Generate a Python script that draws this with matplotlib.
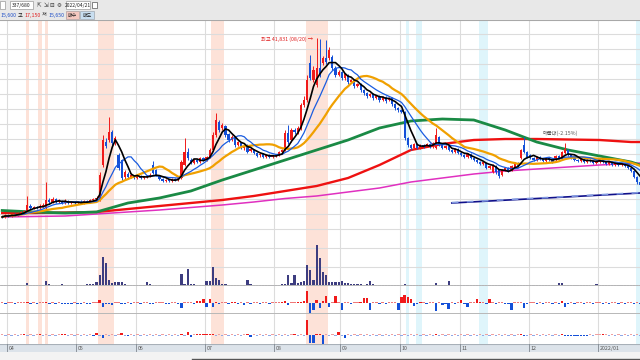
import numpy as np
import pandas as pd
import matplotlib
matplotlib.use('Agg')
import matplotlib.pyplot as plt
from matplotlib.patches import Rectangle

plt.rcParams['font.family'] = ['Noto Sans CJK KR', 'DejaVu Sans']

# ---------------- data (daily, trading-day index) ----------------
month_start = [2, 24, 43, 65, 87, 108, 127, 146, 168, 190]
month_labels = ['04', '05', '06', '07', '08', '09', '10', '11', '12', '2022/01']

open_h = [240,239,241,240,242,241,243,244,244,250, 248,249,248,250,248,256,254,257,254,255,
          253,255,253,254,253,254,253,255,254,256, 257,256,291,314,316,324,313,301,296,279,
          282,279,280,278,280,278,279,280,291,286, 280,277,275,276,275,277,276,278,291,304,
          296,293,296,294,298,296,299,306,321,334, 328,330,322,316,318,311,313,308,309,305,
          306,303,301,302,299,301,299,300,301,304, 306,323,316,326,324,328,351,356,393,376,
          371,388,393,398,398,399,388,381,384,378, 381,374,376,370,372,366,363,360,362,358,
          360,356,359,356,358,352,348,346,344,318, 311,308,312,308,311,310,312,309,308,319,
          311,308,310,306,304,307,303,301,299,302, 298,296,294,292,293,288,284,290,286,281,
          286,288,286,289,293,298,311,304,301,298, 296,299,297,295,298,296,296,300,298,303,
          306,301,298,296,295,297,294,296,295,293, 294,297,294,292,294,291,293,291,292,290,
          288,285,279,274]
close_h = [239,241,240,242,241,243,244,245,251,248, 249,248,250,251,256,254,257,254,255,253,
           255,253,254,253,254,253,255,254,256,257, 258,281,316,310,324,313,318,288,278,284,
           279,281,278,280,278,279,280,281,283,281, 277,275,276,275,277,276,278,294,304,298,
           293,296,294,298,296,299,306,321,336,326, 331,321,316,319,311,314,308,310,304,307,
           303,300,302,299,301,299,300,301,304,306, 323,314,326,324,328,351,356,376,378,386,
           388,381,398,394,406,388,381,384,378,382, 374,376,370,372,366,363,360,362,358,360,
           356,359,355,358,352,348,346,344,318,311, 308,312,308,311,310,312,309,313,321,311,
           308,310,306,304,307,303,301,299,302,298, 296,294,292,294,288,290,290,284,280,286,
           288,285,290,293,290,306,304,299,298,296, 299,297,295,298,296,294,300,298,304,307,
           301,298,296,295,297,294,296,295,293,295, 297,294,292,294,291,293,291,292,290,288,
           285,279,274,271]
high_h = [241,242,242,243,243,244,245,246,260,252, 250,250,252,253,274,258,259,258,257,256,
          257,256,255,255,255,256,256,256,257,258, 260,284,321,318,339,326,320,303,297,286,
          284,283,281,281,281,280,281,283,295,287, 281,278,277,277,278,278,279,296,318,308,
          298,297,297,299,299,300,308,324,343,336, 333,331,323,321,319,315,314,311,312,308,
          307,304,303,303,302,302,301,302,305,307, 326,331,328,328,330,353,360,381,401,390,
          418.31,417,400,416,409,401,390,386,385,383, 382,377,377,373,373,367,364,363,363,361,
          361,360,360,359,359,353,349,347,345,319, 312,313,313,312,312,313,313,314,328,320,
          312,311,311,307,308,308,304,302,303,303, 299,297,295,295,294,291,292,291,287,287,
          289,289,291,294,294,307,319,305,302,299, 300,300,298,299,299,297,301,301,305,313,
          307,302,299,297,298,298,297,297,296,296, 298,298,295,295,295,294,294,293,293,291,
          289,286,280,275]
low_h = [238,238,239,239,240,240,242,243,243,247, 247,247,247,249,247,253,253,253,253,252,
         252,252,252,252,252,252,252,253,253,255, 256,255,289,308,314,311,311,286,276,277,
         277,278,277,277,277,277,278,279,282,280, 276,274,274,274,274,275,275,277,290,296,
         292,292,293,293,295,295,298,305,319,324, 326,319,314,315,309,310,307,306,303,304,
         302,299,299,298,298,298,298,299,300,303, 305,312,314,322,322,326,349,354,376,374,
         369,379,391,392,396,386,379,380,376,376, 372,373,368,369,364,361,358,359,356,357,
         354,355,353,355,350,346,344,343,316,309, 306,307,307,307,308,309,308,308,307,310,
         307,307,305,303,303,302,300,298,298,297, 295,293,291,291,287,287,283,282,278,280,
         285,284,285,288,289,297,303,298,297,295, 295,296,294,294,295,293,295,297,297,302,
         300,297,295,294,294,293,293,294,292,292, 293,293,291,291,290,290,290,290,289,287,
         284,278,272,270]

# long moving averages, sampled every 10 trading days (price in 100 won)
ma_long_idx = [0, 10, 20, 30, 40, 50, 60, 70, 80, 90, 100, 110, 120, 130, 140, 150, 160, 170, 180, 190, 200, 203]
ma60_h = [245.5, 244, 243, 244, 253, 258, 265, 276, 286, 296, 306, 316, 328, 335, 337, 336, 326, 314, 306, 300, 294, 291]
ma120_h = [243, 243, 243.5, 244, 247, 250, 253, 256, 260, 265, 270, 278, 291, 306, 312, 316, 317, 317, 316.5, 316, 314, 314]
ma240_h = [239, 239.5, 240, 242, 244, 246, 248.5, 251, 254, 257.5, 260, 264, 268, 274, 278, 282, 285, 287, 289, 291, 292.5, 293]

trend_idx = [143, 203]
trend_h = [253, 263]

# volume (thousand shares)
volume = [150,120,100,130,100,120,150,130,270,150, 120,100,130,150,530,200,150,120,100,200,
          120,100,120,100,130,100,120,200,200,200, 400,1100,2900,2300,600,330,370,370,370,200,
          150,130,120,120,100,150,400,200,150,120, 100,120,100,100,130,120,150,1200,200,1700,
          200,200,150,150,150,530,530,1870,800,600, 250,200,150,150,130,120,150,150,600,200,
          150,150,120,100,120,100,150,150,150,200, 200,1100,300,1100,300,400,500,2100,1600,600,
          4100,2800,1400,1100,430,430,430,430,500,300, 300,250,200,200,200,150,200,500,180,150,
          150,150,120,120,120,120,150,150,200,150, 150,150,120,120,120,120,120,150,300,150,
          120,120,500,120,100,100,100,100,120,100, 100,100,100,100,100,100,100,100,100,100,
          100,100,100,100,120,150,120,100,100,100, 100,100,100,100,100,100,100,330,330,150,
          100,100,100,100,100,100,100,100,100,200, 100,100,100,100,100,100,100,100,100,100,
          100,100,120,120]

# net buying indicator 1 (thousand shares)
net1 = [8,-8,8,8,-8,8,8,8,15,-8, 8,-8,8,8,15,-8,8,-8,8,-8,
        -8,-8,-8,8,-8,-8,8,-8,-8,8, 10,27,-40,-10,-8,-23,8,8,-8,-8,
        8,-8,8,8,-8,8,10,-8,-8,10, 8,8,-8,-8,8,8,-8,-50,8,8,
        10,-8,20,25,40,-37,43,-37,15,-12, 10,12,-12,15,15,-8,8,-15,8,-8,
        8,8,-8,8,8,-8,8,8,10,15, 20,-15,10,8,15,15,20,117,-107,-70,
        30,-47,20,67,-40,10,67,10,-73,8, 10,-8,8,10,15,53,53,-73,10,8,
        -8,8,-8,8,8,8,-67,60,77,65, 40,-33,-8,15,8,-8,8,8,-80,8,
        -15,-8,-57,8,-10,10,27,-10,-40,10, 8,37,15,8,-8,37,8,-8,8,8,
        -8,-8,-73,8,8,10,-50,-8,8,8, -8,8,-8,8,8,-8,8,-8,20,-40,
        -8,8,-8,8,8,-8,8,8,-8,8, 8,-8,8,-8,8,8,-8,8,-8,8,
        8,-8,8,-8]

# net buying indicator 2 (thousand shares)
net2 = [6,-6,6,-6,6,-6,6,12,-6,6, -6,6,12,-6,6,-6,6,-6,6,12,
        12,-6,6,-6,6,-6,6,-6,6,-10, 20,-6,-25,6,-6,6,-6,6,20,-6,
        -10,6,-6,6,-6,6,-6,6,-6,6, -6,6,-6,6,-6,6,-6,10,-6,30,
        -20,6,10,10,10,10,10,10,-6,6, -6,6,-6,6,-6,6,-6,6,15,-15,
        6,-6,6,-6,6,-6,6,-6,6,-6, 6,-6,6,15,-6,6,-6,155,-80,-80,
        10,10,-90,6,-6,6,-6,30,-6,-25, 6,-6,6,-6,6,-6,6,-6,6,-6,
        6,-6,6,-6,6,-6,6,-6,6,-6, 6,-6,6,-6,6,-6,6,-6,10,-6,
        6,-6,6,-6,6,-6,6,-6,6,-6, 6,-6,6,-6,6,-6,6,-6,6,-6,
        6,-6,6,-6,6,10,-10,-6,6,-6, 6,-6,6,-6,6,-6,6,-6,10,-10,
        -10,-10,-10,-10,-10,-10,-10,6,-6,6, 6,10,6,-6,6,-6,6,-6,6,-6,
        6,-6,6,-6]

signal_up = [(8, 8), (12, 12), (14, 14), (31, 35), (67, 70), (97, 103)]
signal_down = [(129, 129), (132, 133), (152, 154), (202, 203)]

top_label = '최고 41,831 (08/20) →'
band_label = '매물대(-2.15%)'

# ---------------- figure ----------------
W, H = 640, 360
fig = plt.figure(figsize=(W / 100, H / 100), dpi=100)
fig.patch.set_facecolor('white')

def ax_px(x0, y0, x1, y1, z=1):
    a = fig.add_axes([x0 / W, 1 - y1 / H, (x1 - x0) / W, (y1 - y0) / H], zorder=z)
    return a

n = len(close_h)
idx = np.arange(n)
opens = np.array(open_h, float) * 100
closes = np.array(close_h, float) * 100
highs = np.array(high_h, float) * 100
lows = np.array(low_h, float) * 100
XL = (-0.70, 202.86)

RED = '#f01a1a'
BLUE = '#1450d8'
PINK = '#fde2d8'
CYAN = '#dff5fb'
GRID = '#dcdcdc'


def base(ax):
    ax.set_xlim(*XL)
    for s in ax.spines.values():
        s.set_visible(False)
    ax.set_xticks([])
    ax.set_yticks([])
    for a, b in signal_up:
        ax.axvspan(a - 0.5, b + 0.5, color=PINK, lw=0, zorder=0)
    for a, b in signal_down:
        ax.axvspan(a - 0.5, b + 0.5, color=CYAN, lw=0, zorder=0)
    for m in month_start:
        ax.axvline(m - 0.5, color=GRID, lw=0.8, zorder=0.5)

# toolbar background
bg = ax_px(0, 0, 640, 20)
bg.set_xlim(0, 640); bg.set_ylim(20, 0); bg.axis('off')
bg.add_patch(Rectangle((0, 0), 640, 20, color='#e8e8e8'))
bg.add_patch(Rectangle((0, 1), 5, 8, facecolor='white', edgecolor='#9a9a9a', lw=0.5))
bg.add_patch(Rectangle((10, 1), 23, 8, facecolor='white', edgecolor='#9a9a9a', lw=0.5))
bg.text(21.5, 5.2, '337/680', fontsize=3.6, ha='center', va='center', color='#222')
for k, s in enumerate(['⇱', '⇲', '⊟', '⚙']):
    bg.text(39 + k * 6.5, 5.2, s, fontsize=4, ha='center', va='center', color='#333', family=['DejaVu Sans'])
bg.add_patch(Rectangle((66, 1), 24, 8, facecolor='white', edgecolor='#9a9a9a', lw=0.5))
bg.text(78, 5.2, '2022/04/21', fontsize=3.6, ha='center', va='center', color='#222')
bg.add_patch(Rectangle((92, 2), 5, 6, facecolor='white', edgecolor='#555', lw=0.5))
bg.text(0.5, 15, '15,600', fontsize=3.8, ha='left', va='center', color='#2050c8')
bg.text(18, 15, '고', fontsize=3.8, ha='left', va='center', color='#222')
bg.text(24, 15, '17,150', fontsize=3.8, ha='left', va='center', color='#e02020')
bg.text(42, 15, '저', fontsize=3.8, ha='left', va='center', color='#222')
bg.text(48, 15, '15,650', fontsize=3.8, ha='left', va='center', color='#2050c8')
bg.add_patch(Rectangle((66, 11), 13, 8, facecolor='#f5c8c0', edgecolor='#b0a0a0', lw=0.5))
bg.text(72.5, 15, '매수', fontsize=3.6, ha='center', va='center', color='#222')
bg.add_patch(Rectangle((80, 11), 14, 8, facecolor='#c8def0', edgecolor='#a0a8b0', lw=0.5))
bg.text(87, 15, '매도', fontsize=3.6, ha='center', va='center', color='#222')

# ---------------- main price panel ----------------
ax = ax_px(0, 20, 640, 239)
base(ax)
ax.set_ylim(21700, 43600)
for g in np.arange(42200, 21700, -1500):
    ax.axhline(g, color=GRID, lw=0.8, zorder=0.5)
ax.axhline(43600, color='#a8a8a8', lw=1.5, zorder=1)

up = closes >= opens
cols = np.where(up, RED, BLUE)
ax.vlines(idx, lows, highs, colors=cols, lw=0.7, zorder=3)
body_lo = np.minimum(opens, closes)
body_h = np.maximum(np.abs(closes - opens), 60)
ax.bar(idx, body_h, bottom=body_lo, width=0.7, color=cols, lw=0, zorder=3)

cs = pd.Series(closes)
ma5 = cs.rolling(5, min_periods=1).mean()
ma10 = cs.rolling(10, min_periods=1).mean()
ma20 = cs.rolling(20, min_periods=1).mean()
ax.plot(ma_long_idx, np.array(ma240_h) * 100, color='#e030c0', lw=1.1, zorder=2)
ax.plot(ma_long_idx, np.array(ma120_h) * 100, color='#ee1111', lw=1.7, zorder=2)
ax.plot(ma_long_idx, np.array(ma60_h) * 100, color='#1a8a45', lw=2.0, zorder=2)
ax.plot(idx, ma20, color='#f0a000', lw=1.6, zorder=4)
ax.plot(idx, ma10, color='#1a5ce0', lw=0.9, zorder=4)
ax.plot(idx, ma5, color='black', lw=1.2, zorder=4)
ax.plot(trend_idx, np.array(trend_h) * 100, color='#10108a', lw=1.2, zorder=4)
ax.plot(trend_idx, np.array(trend_h) * 100 + 40, color='#8098e0', lw=1.2, ls=(0, (4, 5)), zorder=4)

imax = int(np.argmax(highs))
ax.text(imax - 1.2, highs[imax] - 200, top_label, fontsize=3.8, color='#e02020', ha='right', va='center', zorder=5)
ax.text(172, 32300, band_label, fontsize=3.8, color='#555555', ha='left', va='center', zorder=5)

# ---------------- volume panel ----------------
av = ax_px(0, 239, 640, 286)
base(av)
av.set_ylim(0, 4700)
for g in (1900, 3800):
    av.axhline(g, color=GRID, lw=0.8, zorder=0.5)
av.bar(idx, volume, width=0.7, color='#3d3d80', lw=0, zorder=3)
av.axhline(0, color='#b8b8b8', lw=1.4, zorder=4)

# ---------------- indicator 1 ----------------
a1 = ax_px(0, 286, 640, 314)
base(a1)
a1.set_ylim(-110, 170)
n1 = np.array(net1, float)
c1 = np.where(n1 > 12, '#f01a1a', np.where(n1 > 0, '#f07878', '#1450d8'))
a1.bar(idx, n1, width=0.75, color=c1, lw=0, zorder=3)
a1.axhline(-110, color='#b8b8b8', lw=1.4, zorder=4)

# ---------------- indicator 2 ----------------
a2 = ax_px(0, 314, 640, 344)
base(a2)
a2.set_ylim(-90, 210)
n2 = np.array(net2, float)
c2 = np.where(n2 > 8, '#f01a1a', np.where(n2 > 0, '#f0a0a0', np.where(n2 < -8, '#1450d8', '#90a8e8')))
a2.bar(idx, n2, width=0.75, color=c2, lw=0, zorder=3)

# ---------------- date axis ----------------
ad = ax_px(0, 344, 640, 352)
ad.set_xlim(*XL); ad.set_ylim(0, 1)
ad.set_xticks([]); ad.set_yticks([])
for s in ad.spines.values():
    s.set_visible(False)
ad.add_patch(Rectangle((XL[0], 0), XL[1] - XL[0], 1, color='#dce3ea', zorder=0))
ad.axhline(1, color='#a8b0b8', lw=0.8)
for m, lab in zip(month_start, month_labels):
    ad.axvline(m - 0.5, color='#808890', lw=0.6)
    ad.text(m + 0.0, 0.45, lab, fontsize=3.8, color='#555', ha='left', va='center')

ab = ax_px(0, 352, 640, 360)
ab.set_xlim(0, 640); ab.set_ylim(8, 0); ab.axis('off')
ab.add_patch(Rectangle((0, 0), 640, 8, color='#f3f3f3'))
ab.plot([192, 640], [7.3, 7.3], color='#555', lw=1.0)

fig.savefig('out.png', dpi=100)
